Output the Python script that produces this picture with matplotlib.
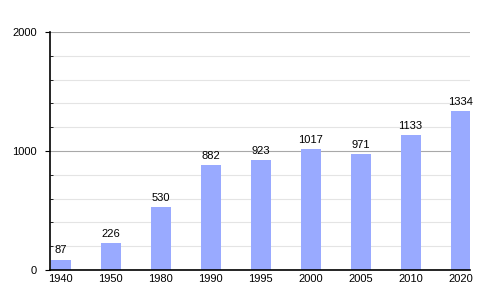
import matplotlib
matplotlib.use('Agg')
import matplotlib.pyplot as plt
from matplotlib.ticker import MultipleLocator

# population by census year
years = ['1940', '1950', '1980', '1990', '1995', '2000', '2005', '2010', '2020']
pop = [87, 226, 530, 882, 923, 1017, 971, 1133, 1334]

plt.rcParams['font.family'] = ['Liberation Sans', 'DejaVu Sans']

fig = plt.figure(figsize=(5, 3), dpi=100)
ax = fig.add_axes([0.1, 0.1, 0.84, 0.793])

xpos = [i * 50 + 10.5 for i in range(len(years))]
ax.bar(xpos, pop, width=20, color='#99aaff', zorder=3)
for x, v in zip(xpos, pop):
    ax.text(x, v + 35, str(v), ha='center', va='bottom', fontsize=8, zorder=4)

ax.set_xlim(0, 420)
ax.set_ylim(0, 2000)
ax.set_xticks(xpos)
ax.set_xticklabels(years, fontsize=8)
ax.tick_params(axis='x', length=0, pad=3)

ax.yaxis.set_major_locator(MultipleLocator(1000))
ax.yaxis.set_minor_locator(MultipleLocator(200))
ax.tick_params(axis='y', which='major', direction='out', length=3.6, labelsize=8, pad=6)
ax.tick_params(axis='y', which='minor', direction='in', length=2.5)

ax.grid(axis='y', which='minor', color='#e4e4e4', linewidth=0.8, zorder=0)
ax.grid(axis='y', which='major', color='#a8a8a8', linewidth=0.8, zorder=1)

for s in ['top', 'right']:
    ax.spines[s].set_visible(False)
ax.spines['left'].set_linewidth(1.2)
ax.spines['bottom'].set_linewidth(1.2)
ax.spines['bottom'].set_zorder(5)

plt.savefig('out.png', dpi=100)
